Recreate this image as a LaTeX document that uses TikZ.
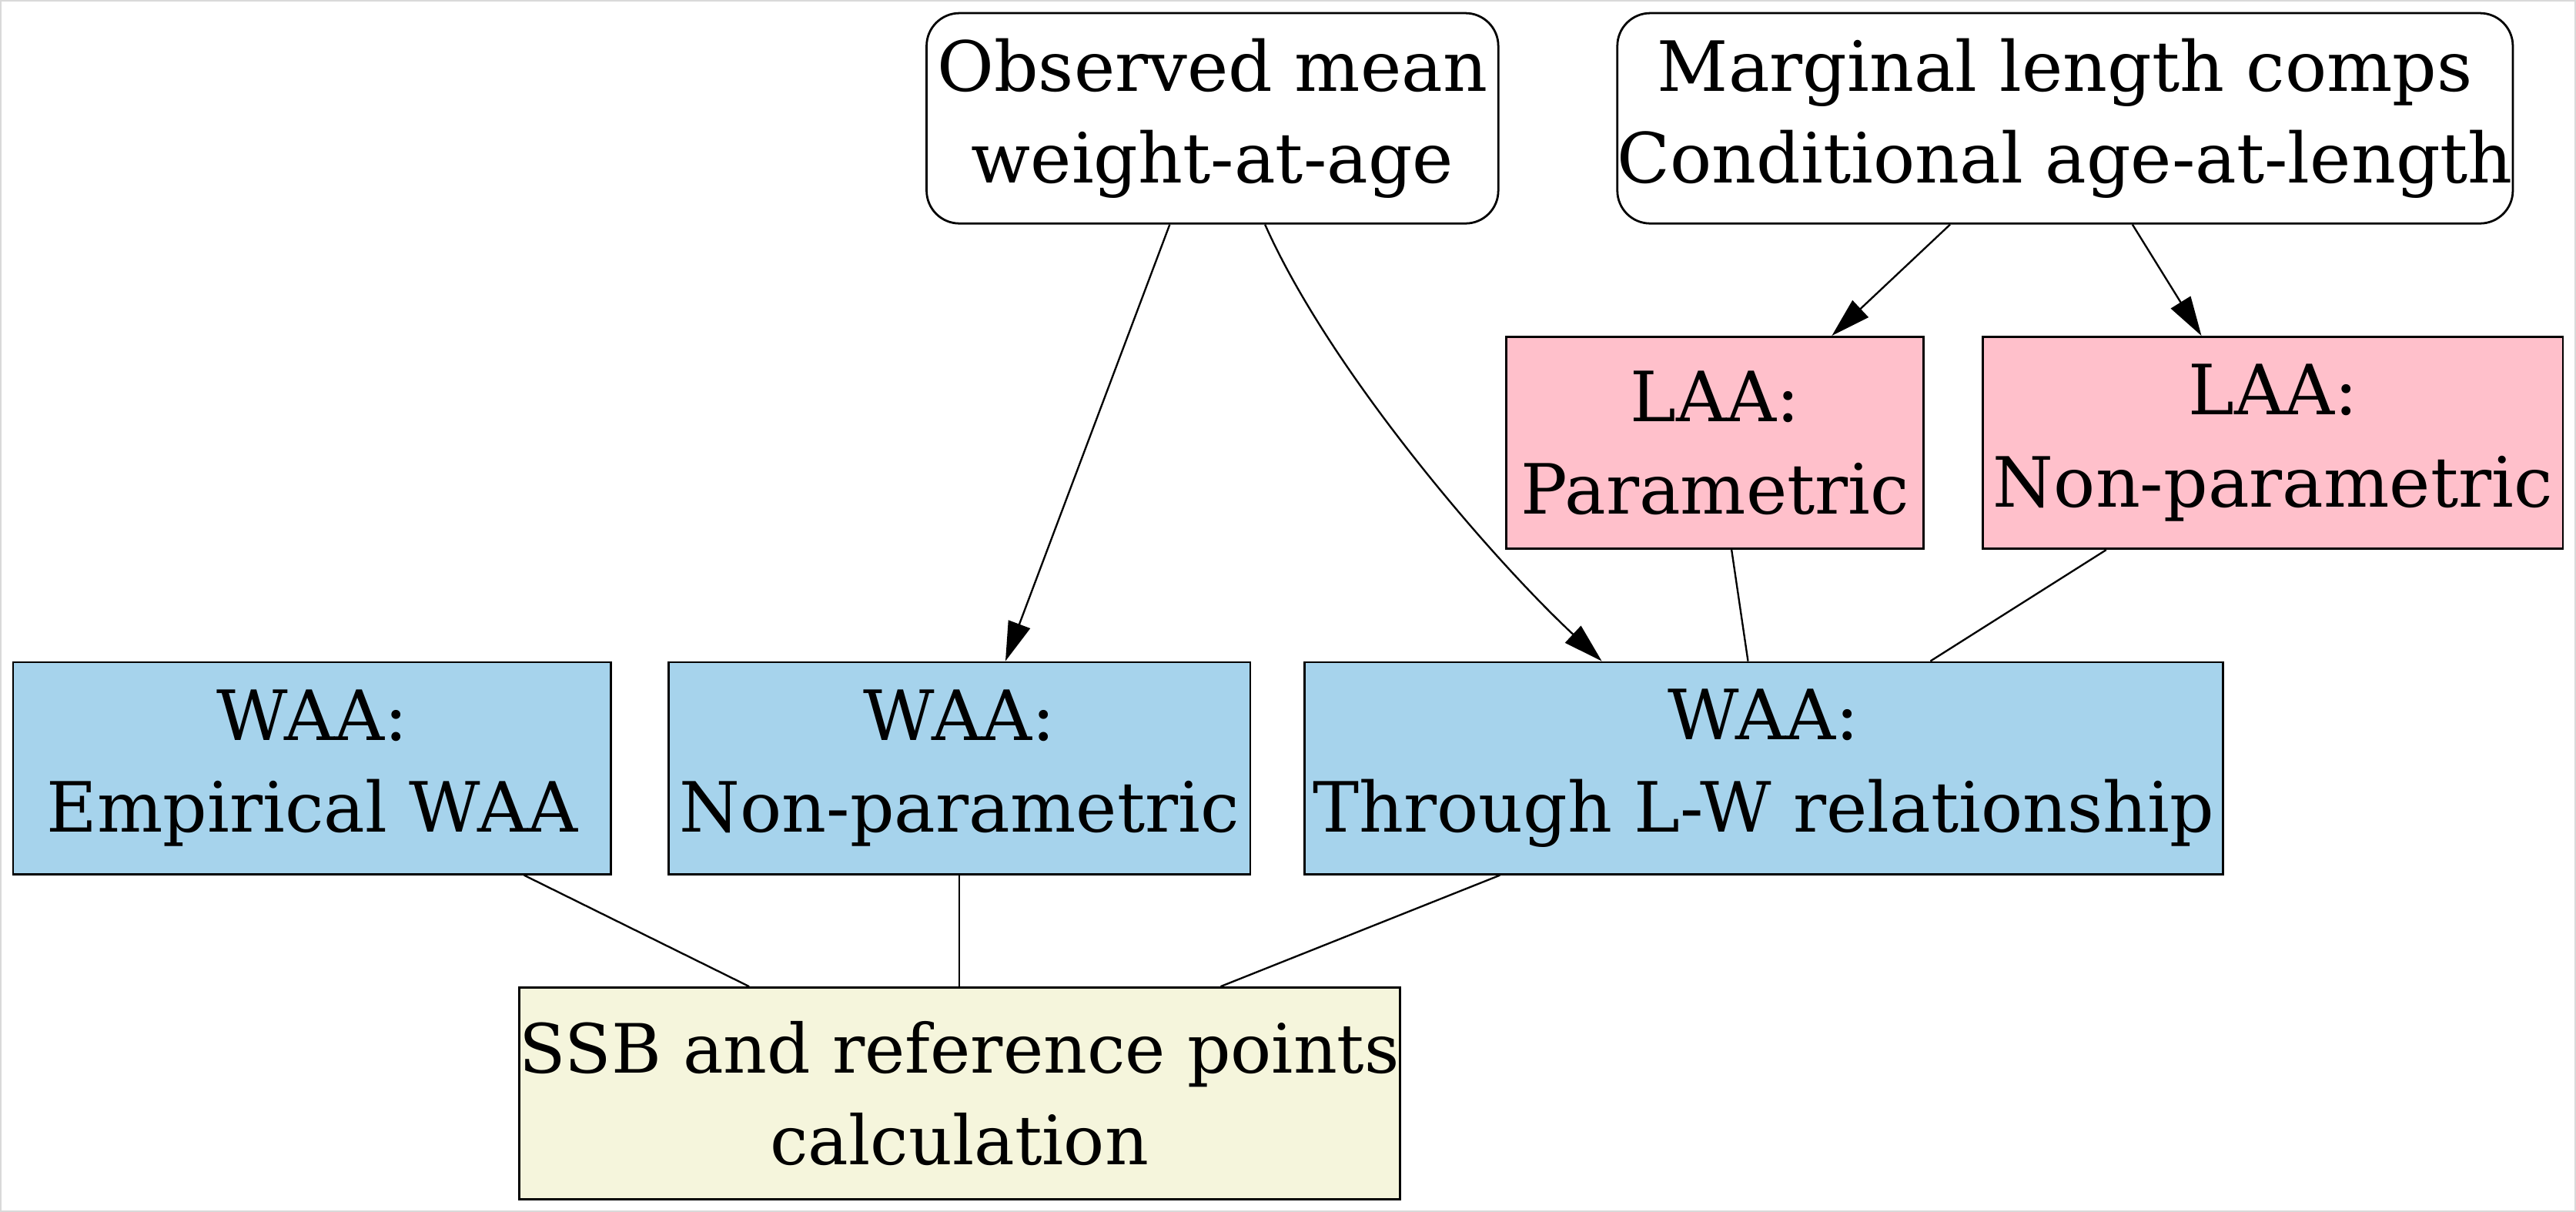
\documentclass[tikz,border=0pt]{standalone}
\usepackage{fontspec}
\setmainfont{DejaVu Serif}
\usetikzlibrary{arrows.meta,calc}

\definecolor{waablue}{HTML}{A6D3EC}
\definecolor{laapink}{HTML}{FFC0CB}
\definecolor{ssbbeige}{HTML}{F5F5DC}

\begin{document}
\begin{tikzpicture}[
    x=1pt, y=-1pt,
    box/.style={rectangle, draw=black, line width=1.3pt, inner sep=0pt, align=center, minimum height=129pt, font=\fontsize{42.2}{56}\selectfont},
    data/.style={box, rounded corners=20pt, fill=white, minimum height=128pt},
    laa/.style={box, fill=laapink},
    waa/.style={box, fill=waablue},
    calcbox/.style={box, fill=ssbbeige, font=\fontsize{41.4}{56}\selectfont},
    arrow/.style={-{Triangle[length=24pt,width=14pt]}, line width=1.1pt},
    link/.style={-, line width=1.1pt}
]

% Frame
\draw[gray!30, line width=1pt] (0.5,0.5) rectangle (1567.5,737);
\useasboundingbox (0,0) rectangle (1568,737.6);

% Data sources
\node[data, minimum width=348pt] (obs) at (738,72) {Observed mean\\weight-at-age};
\node[data, minimum width=544pt] (marg) at (1257,72) {Marginal length comps\\Conditional age-at-length};

% Length-at-age
\node[laa, minimum width=254pt] (laaP) at (1044,269.5) {LAA:\\Parametric};
\node[laa, minimum width=353pt] (laaNP) at (1383.5,269.5) {LAA:\\Non-parametric};

% Weight-at-age
\node[waa, minimum width=364pt] (waaE) at (190,467.5) {WAA:\\Empirical WAA};
\node[waa, minimum width=354pt] (waaNP) at (584,467.5) {WAA:\\Non-parametric};
\node[waa, minimum width=559pt] (waaLW) at (1073.5,467.5) {WAA:\\Through L-W relationship};

% Output
\node[calcbox, minimum width=536pt] (ssb) at (584,665.5) {SSB and reference points\\calculation};

% Arrows
\draw[arrow] ($(obs.south)+(-26,0)$) -- ($(waaNP.north)+(28,0)$);
\draw[arrow] ($(obs.south)+(32,0)$) .. controls ($(obs.south)+(72,90)$) and ($(waaLW.north)+(-165,-62)$) .. ($(waaLW.north)+(-98.5,0)$);
\draw[arrow] ($(marg.south)+(-70,0)$) -- ($(laaP.north)+(71,0)$);
\draw[arrow] ($(marg.south)+(41,0)$) -- ($(laaNP.north)+(-43.5,0)$);

% Plain links
\draw[link] ($(laaP.south)+(10,0)$) -- ($(waaLW.north)+(-9.5,0)$);
\draw[link] ($(laaNP.south)+(-101.5,0)$) -- ($(waaLW.north)+(101.5,0)$);
\draw[link] ($(waaE.south)+(129,0)$) -- ($(ssb.north)+(-128,0)$);
\draw[link] (waaNP.south) -- (ssb.north);
\draw[link] ($(waaLW.south)+(-160.5,0)$) -- ($(ssb.north)+(159,0)$);

\end{tikzpicture}
\end{document}
